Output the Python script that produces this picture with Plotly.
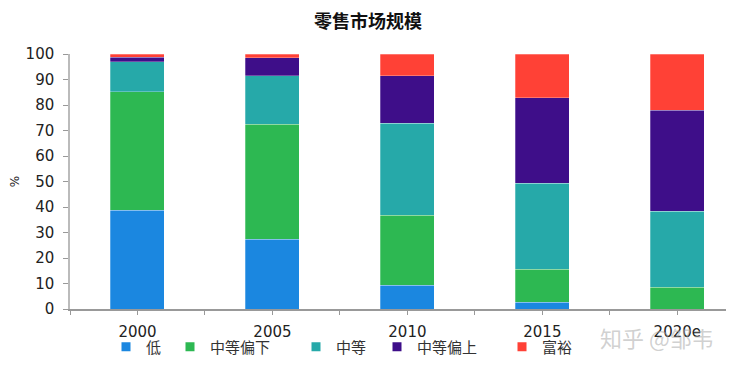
import plotly.graph_objects as go

categories = ["2000", "2005", "2010", "2015", "2020e"]
series_names = ["低", "中等偏下", "中等", "中等偏上", "富裕"]
low = [38.7, 27.3, 9.3, 2.6, 0.0]
lower_mid = [46.5, 45.1, 27.4, 13.0, 8.5]
mid = [11.7, 19.0, 36.1, 33.7, 29.9]
upper_mid = [1.9, 7.2, 18.6, 33.6, 39.5]
rich = [1.2, 1.4, 8.6, 17.1, 22.1]
y_ticks = [0, 10, 20, 30, 40, 50, 60, 70, 80, 90, 100]

series_values = [low, lower_mid, mid, upper_mid, rich]
colors = ["#1b87e0", "#2db852", "#26a9a9", "#3e0e89", "#ff4136"]
x_pos = list(range(len(categories)))

# page body has an 8px margin, so the figure is drawn 8px in from the top-left
OFF = 8
W, H = 734 - OFF, 368 - OFF
PL, PT, PB = 70 - OFF, 54 - OFF, H - (309 - OFF)
PW, PH = W - PL, H - PT - PB

fig = go.Figure()
legend_ids = ["legend", "legend2", "legend3", "legend4", "legend5"]
for name, vals, col, lg in zip(series_names, series_values, colors, legend_ids):
    fig.add_trace(go.Bar(
        x=x_pos, y=vals, name=name, width=0.4,
        marker=dict(color=col, line=dict(color="rgba(255,255,255,0.45)", width=0.6)),
        showlegend=False,
    ))
    fig.add_trace(go.Scatter(
        x=[None], y=[None], mode="markers", name=name,
        marker=dict(symbol="square", size=9, color=col),
        legend=lg, showlegend=True,
    ))

text_starts = [143, 207, 333, 414, 539]
legend_font = dict(family="DejaVu Sans, Noto Sans CJK SC", size=15, color="#333")
layout_legends = {}
for lg, ts in zip(legend_ids, text_starts):
    left_px = ts - 42 + 5
    layout_legends[lg] = dict(
        x=(left_px - 70) / PW, xanchor="left", y=(309 - 347) / PH, yanchor="middle",
        orientation="h", font=legend_font, bgcolor="rgba(0,0,0,0)",
        itemwidth=30, tracegroupgap=0,
    )

fig.update_layout(
    barmode="stack",
    width=W, height=H,
    margin=dict(l=PL, r=0, t=PT, b=PB, autoexpand=False),
    paper_bgcolor="white", plot_bgcolor="white",
    title=dict(text="<b>零售市场规模</b>", x=(368 - OFF) / W, xref="container", xanchor="center",
               y=1 - (22 - OFF) / H, yanchor="middle",
               font=dict(family="Noto Sans CJK SC", size=18, color="#111")),
    font=dict(family="DejaVu Sans", size=15, color="#222"),
    **layout_legends,
)
fig.update_layout(xaxis=dict(
    range=[-0.5, 4.42], tickvals=x_pos, ticktext=categories,
    showline=True, linecolor="#999", linewidth=1.5,
    ticks="outside", ticklen=4, tickcolor="#999",
    minor=dict(dtick=0.5, tick0=0.5, ticks="outside", ticklen=4, tickcolor="#999"),
    showgrid=False, zeroline=False, ticklabelstandoff=4,
    tickfont=dict(family="DejaVu Sans", size=15, color="#222"),
))
fig.update_layout(yaxis=dict(
    range=[0, 100], tickvals=y_ticks,
    showline=True, linecolor="#bbb", linewidth=1.5,
    ticks="outside", ticklen=5, tickcolor="#999",
    showgrid=False, zeroline=False, ticklabelstandoff=6,
    tickfont=dict(family="DejaVu Sans", size=15, color="#222"),
    title=dict(text="%", font=dict(family="DejaVu Sans", size=12, color="#222"), standoff=6),
))

fig.add_annotation(
    text="知乎 @邹韦", xref="paper", yref="paper",
    x=(657 - 70) / PW, y=(309 - 337) / PH, xanchor="center", yanchor="middle",
    showarrow=False,
    font=dict(family="Noto Sans CJK SC", size=22, color="rgba(170,170,170,0.55)"),
)

fig.write_html("out.html")
